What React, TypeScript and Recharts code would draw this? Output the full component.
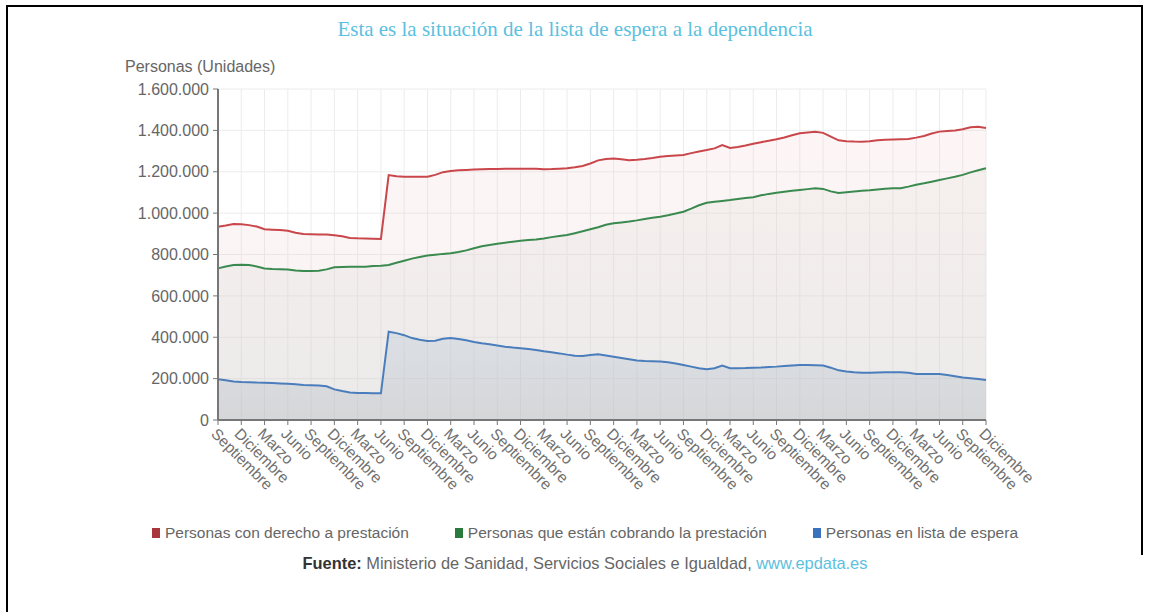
import { ComposedChart, Area, XAxis, YAxis, CartesianGrid } from 'recharts';

// meses (sep 2013 - dic 2021)
const months = [
  '2013-09', '2013-10', '2013-11', '2013-12',
  '2014-01', '2014-02', '2014-03', '2014-04', '2014-05', '2014-06', '2014-07', '2014-08', '2014-09', '2014-10', '2014-11', '2014-12',
  '2015-01', '2015-02', '2015-03', '2015-04', '2015-05', '2015-06', '2015-07', '2015-08', '2015-09', '2015-10', '2015-11', '2015-12',
  '2016-01', '2016-02', '2016-03', '2016-04', '2016-05', '2016-06', '2016-07', '2016-08', '2016-09', '2016-10', '2016-11', '2016-12',
  '2017-01', '2017-02', '2017-03', '2017-04', '2017-05', '2017-06', '2017-07', '2017-08', '2017-09', '2017-10', '2017-11', '2017-12',
  '2018-01', '2018-02', '2018-03', '2018-04', '2018-05', '2018-06', '2018-07', '2018-08', '2018-09', '2018-10', '2018-11', '2018-12',
  '2019-01', '2019-02', '2019-03', '2019-04', '2019-05', '2019-06', '2019-07', '2019-08', '2019-09', '2019-10', '2019-11', '2019-12',
  '2020-01', '2020-02', '2020-03', '2020-04', '2020-05', '2020-06', '2020-07', '2020-08', '2020-09', '2020-10', '2020-11', '2020-12',
  '2021-01', '2021-02', '2021-03', '2021-04', '2021-05', '2021-06', '2021-07', '2021-08', '2021-09', '2021-10', '2021-11', '2021-12',
];

// valores en miles de personas
const derechoMiles = [
  934, 940, 947, 946,
  942, 935, 922, 920, 918, 915, 905, 899, 898, 897, 897, 893,
  888, 880, 878, 877, 876, 875, 1184, 1178, 1176, 1176, 1176, 1176,
  1185, 1198, 1204, 1207, 1209, 1211, 1212, 1213, 1213, 1214, 1215, 1215,
  1215, 1214, 1212, 1213, 1215, 1217, 1222, 1228, 1240, 1255, 1262, 1264,
  1260, 1256, 1258, 1262, 1267, 1273, 1276, 1279, 1281, 1290, 1298, 1305,
  1313, 1329, 1315, 1320, 1327, 1335, 1343, 1350, 1357, 1366, 1376, 1386,
  1390, 1393, 1388, 1370, 1352, 1348, 1346, 1345, 1348, 1352, 1355, 1356,
  1357, 1358, 1365, 1373, 1385, 1394, 1397, 1399, 1405, 1415, 1418, 1412,
];

const cobrandoMiles = [
  733, 742, 749, 750,
  749, 742, 732, 730, 729, 728, 723, 720, 720, 722, 728, 738,
  740, 741, 741, 741, 744, 746, 749, 760, 770, 780, 788, 795,
  799, 803, 806, 812, 820, 830, 840, 846, 852, 857, 862, 866,
  870, 873, 877, 884, 889, 894, 903, 912, 922, 932, 944, 951,
  955, 959, 965, 972, 978, 983, 990, 998, 1007, 1022, 1038, 1050,
  1055, 1059, 1063, 1068, 1073, 1077, 1086, 1093, 1098, 1103, 1108, 1112,
  1116, 1120, 1117, 1105, 1097, 1101, 1105, 1108, 1110, 1114, 1118, 1120,
  1120, 1128, 1137, 1144, 1152, 1160, 1168, 1176, 1185, 1197, 1207, 1217,
];

const esperaMiles = [
  197, 192, 186, 184,
  183, 181, 180, 179, 177, 175, 173, 169, 168, 167, 163, 148,
  140, 133, 131, 130, 129, 129, 427, 420, 410, 396, 388, 382,
  383, 393, 396, 392, 385, 377, 371, 366, 360, 354, 350, 347,
  343, 338, 332, 327, 322, 316, 311, 309, 314, 318, 312, 306,
  300, 294, 288, 285, 284, 283, 279, 273, 266, 258, 250, 245,
  250, 263, 250, 250, 251, 253, 254, 256, 258, 261, 264, 266,
  266, 265, 263, 253, 240, 234, 231, 229, 229, 230, 231, 231,
  231, 228, 222, 222, 222, 222, 218, 212, 205, 202, 198, 193,
];

const yTicks = [0, 200000, 400000, 600000, 800000, 1000000, 1200000, 1400000, 1600000];

const monthNames: Record<string, string> = {
  '03': 'Marzo',
  '06': 'Junio',
  '09': 'Septiembre',
  '12': 'Diciembre',
};

const series = [
  { key: 'derecho', name: 'Personas con derecho a prestación', color: '#c9464b', legend: '#a8363c' },
  { key: 'cobrando', name: 'Personas que están cobrando la prestación', color: '#3a8a4f', legend: '#2a7a3e' },
  { key: 'espera', name: 'Personas en lista de espera', color: '#4a7dbb', legend: '#3a72bd' },
];

const data = months.map((m, i) => ({
  mes: m,
  derecho: derechoMiles[i] * 1000,
  cobrando: cobrandoMiles[i] * 1000,
  espera: esperaMiles[i] * 1000,
}));

const formatMiles = (v: number) => String(v).replace(/\B(?=(\d{3})+(?!\d))/g, '.');

const XTick = ({ x, y, payload }: any) => (
  <g transform={`translate(${x},${y})`}>
    <text x={0} y={3} dy={8} transform="rotate(45)" textAnchor="start" fill="#707070" fontSize={15.5}>
      {monthNames[String(payload.value).slice(5)]}
    </text>
  </g>
);

export default function App() {
  return (
    <div
      style={{
        position: 'absolute',
        left: 0,
        top: 0,
        width: 1150,
        height: 612,
        background: '#fff',
        fontFamily: '"Liberation Sans", Arial, sans-serif',
        overflow: 'hidden',
      }}
    >
      {/* marco */}
      <div style={{ position: 'absolute', left: 6, top: 5, width: 2, height: 607, background: '#000' }} />
      <div style={{ position: 'absolute', left: 6, top: 5, width: 1137, height: 2, background: '#000' }} />
      <div style={{ position: 'absolute', left: 1141, top: 5, width: 2, height: 550, background: '#000' }} />

      <div
        style={{
          position: 'absolute',
          top: 17,
          left: 0,
          width: 1150,
          textAlign: 'center',
          fontFamily: '"Liberation Serif", "Times New Roman", serif',
          fontSize: 21,
          color: '#5cc0e0',
        }}
      >
        Esta es la situación de la lista de espera a la dependencia
      </div>

      <div style={{ position: 'absolute', top: 58, left: 125, fontSize: 16, color: '#666' }}>
        Personas (Unidades)
      </div>

      <div style={{ position: 'absolute', left: 0, top: 0 }}>
        <ComposedChart width={1150} height={612} data={data} margin={{ top: 89, right: 164, bottom: 112, left: 128 }}>
          <defs>
            <linearGradient id="gDerecho" x1="0" y1="0" x2="0" y2="1">
              <stop offset="0%" stopColor="#f4c6c6" stopOpacity={0.28} />
              <stop offset="100%" stopColor="#d8d0d0" stopOpacity={0.4} />
            </linearGradient>
            <linearGradient id="gCobrando" x1="0" y1="0" x2="0" y2="1">
              <stop offset="0%" stopColor="#dcdcd4" stopOpacity={0.35} />
              <stop offset="100%" stopColor="#c4c4c4" stopOpacity={0.35} />
            </linearGradient>
            <linearGradient id="gEspera" x1="0" y1="0" x2="0" y2="1">
              <stop offset="0%" stopColor="#b4c6d8" stopOpacity={0.55} />
              <stop offset="100%" stopColor="#a8b0b6" stopOpacity={0.55} />
            </linearGradient>
          </defs>
          <CartesianGrid stroke="#ececec" />
          <XAxis
            dataKey="mes"
            interval={2}
            tick={<XTick />}
            tickSize={5}
            height={80}
            stroke="#777"
            strokeWidth={2}
            tickLine={{ stroke: '#777', strokeWidth: 1 }}
          />
          <YAxis
            domain={[0, 1600000]}
            ticks={yTicks}
            tickFormatter={formatMiles}
            width={90}
            tickSize={5}
            tickMargin={4}
            stroke="#777"
            strokeWidth={2}
            tickLine={{ stroke: '#777', strokeWidth: 1 }}
            tick={{ fill: '#666', fontSize: 16 }}
          />
          <Area
            type="linear"
            dataKey="derecho"
            stroke={series[0].color}
            strokeWidth={2}
            fill="url(#gDerecho)"
            dot={false}
            activeDot={false}
            isAnimationActive={false}
          />
          <Area
            type="linear"
            dataKey="cobrando"
            stroke={series[1].color}
            strokeWidth={2}
            fill="url(#gCobrando)"
            dot={false}
            activeDot={false}
            isAnimationActive={false}
          />
          <Area
            type="linear"
            dataKey="espera"
            stroke={series[2].color}
            strokeWidth={2}
            fill="url(#gEspera)"
            dot={false}
            activeDot={false}
            isAnimationActive={false}
          />
        </ComposedChart>
      </div>

      <div
        style={{
          position: 'absolute',
          top: 524,
          left: 0,
          width: 1170,
          display: 'flex',
          justifyContent: 'center',
          gap: 46,
          fontSize: 15.5,
          color: '#666',
        }}
      >
        {series.map((s) => (
          <div key={s.key} style={{ display: 'flex', alignItems: 'center' }}>
            <span style={{ display: 'inline-block', width: 8, height: 10, background: s.legend, marginRight: 5 }} />
            {s.name}
          </div>
        ))}
      </div>

      <div style={{ position: 'absolute', top: 554, left: 0, width: 1170, textAlign: 'center', fontSize: 16.4, color: '#666' }}>
        <b style={{ color: '#333' }}>Fuente:</b> Ministerio de Sanidad, Servicios Sociales e Igualdad,{' '}
        <span style={{ color: '#5cc0e0' }}>www.epdata.es</span>
      </div>
    </div>
  );
}
